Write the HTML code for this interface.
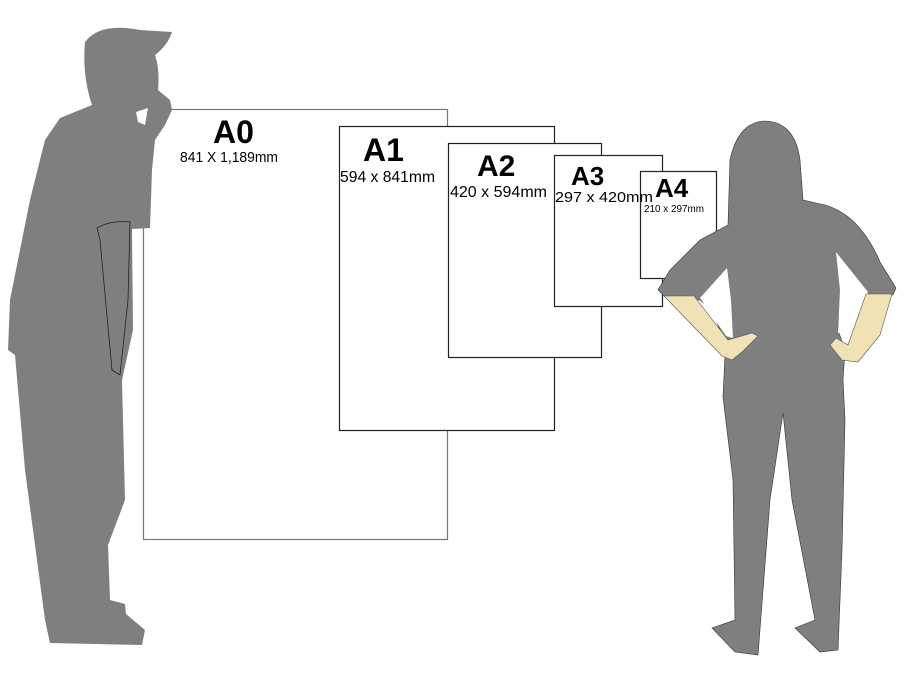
<!DOCTYPE html>
<html><head><meta charset="utf-8"><style>
html,body{margin:0;padding:0;background:#fff;}
svg{display:block;}
text{font-family:"Liberation Sans",Arial,sans-serif;fill:#000;}
</style></head><body>
<svg width="906" height="676" viewBox="0 0 906 676" xmlns="http://www.w3.org/2000/svg">
<rect x="143.5" y="109.5" width="304" height="430" fill="#fff" stroke="#777" stroke-width="1.2"/>
<rect x="339.5" y="126.5" width="215" height="304" fill="#fff" stroke="#222" stroke-width="1.2"/>
<rect x="448.5" y="143.5" width="153" height="214" fill="#fff" stroke="#222" stroke-width="1.2"/>
<rect x="554.5" y="155.5" width="108" height="151" fill="#fff" stroke="#222" stroke-width="1.2"/>
<rect x="640.5" y="171.5" width="76" height="107" fill="#fff" stroke="#222" stroke-width="1.2"/>

<text x="213" y="143" font-size="32" font-weight="bold">A0</text>
<text x="180" y="162" font-size="15" textLength="98" lengthAdjust="spacingAndGlyphs">841 X 1,189mm</text>
<text x="363" y="161" font-size="32" font-weight="bold">A1</text>
<text x="340" y="182" font-size="16" textLength="95" lengthAdjust="spacingAndGlyphs">594 x 841mm</text>
<text x="477" y="176" font-size="30" font-weight="bold">A2</text>
<text x="450" y="197" font-size="16" textLength="97" lengthAdjust="spacingAndGlyphs">420 x 594mm</text>
<text x="571" y="185" font-size="26" font-weight="bold">A3</text>
<text x="555" y="202" font-size="15" textLength="98" lengthAdjust="spacingAndGlyphs">297 x 420mm</text>
<text x="655" y="197" font-size="26" font-weight="bold">A4</text>
<text x="644" y="212" font-size="10" textLength="60" lengthAdjust="spacingAndGlyphs">210 x 297mm</text>

<!-- man -->
<path fill="#7f7f7f" d="M85,42 Q100,22 140,30 L172,32 Q168,45 155,55 Q160,70 158,90 L170,100 L172,110 L165,125 L155,140 L152,170 L150,228 L132,229 L133,330 L122,380 L125,500 L108,545 L110,600 L125,604 L126,614 L145,630 L142,645 L50,643 L45,620 L25,470 L15,355 L8,350 L10,300 L30,200 L45,140 L60,118 L92,105 Q82,75 85,42 Z"/>
<path d="M97,228 Q110,220 130,222 L128,300 L120,375 L112,370 L100,240 Z" fill="none" stroke="#222" stroke-width="0.8"/>
<path d="M136,112 L148,108 L145,125 L138,122 Z" fill="#fff"/>

<!-- woman -->
<path fill="#7f7f7f" stroke="#333" stroke-width="0.6" d="M765,121 Q795,122 800,160 L803,200 L825,205 Q860,215 880,262 L896,288 L893,295 L868,295 Q860,290 840,300 L838,330 L845,350 L843,380 L845,420 L842,550 L838,650 L820,652 L795,628 L815,620 L792,500 L783,413 L770,500 L758,655 L735,652 L712,628 L735,620 L733,480 L723,397 L725,355 L722,335 L712,310 L700,300 L668,300 L658,290 L670,270 L700,240 L728,225 L730,160 Q738,122 765,121 Z"/>
<path fill="#fff" d="M700,298 L727,268 L731,300 L733,338 L726,336 Z"/>
<path fill="#fff" d="M836,252 L868,292 L850,345 L838,332 L840,290 Z"/>
<!-- arms skin -->
<path fill="#f0e2b4" stroke="#555" stroke-width="0.6" d="M664,296 L694,296 L728,340 L752,333 L758,336 L742,352 L732,360 L722,356 Z"/>
<path fill="#f0e2b4" stroke="#555" stroke-width="0.6" d="M866,294 L892,294 L880,335 L858,362 L842,360 L830,345 L836,338 L848,345 Z"/>
</svg>
</body></html>
